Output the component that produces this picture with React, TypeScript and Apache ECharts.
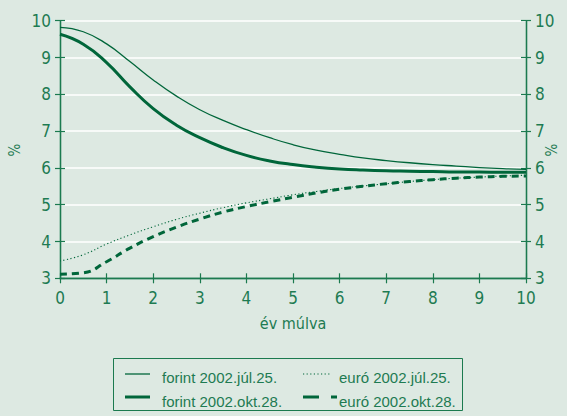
import React, { useEffect, useRef } from "react";
import * as echarts from "echarts";

const years = [0, 0.5, 1, 1.5, 2, 2.5, 3, 3.5, 4, 4.5, 5, 5.5, 6, 6.5, 7, 7.5, 8, 8.5, 9, 9.5, 10];
const forintJul = [9.82, 9.7, 9.37, 8.89, 8.39, 7.95, 7.58, 7.29, 7.04, 6.82, 6.63, 6.48, 6.37, 6.27, 6.2, 6.14, 6.09, 6.05, 6.01, 5.98, 5.96];
const forintOkt = [9.63, 9.36, 8.86, 8.2, 7.61, 7.16, 6.82, 6.55, 6.34, 6.19, 6.09, 6.02, 5.97, 5.94, 5.92, 5.91, 5.9, 5.89, 5.89, 5.88, 5.88];
const euroJul = [3.47, 3.64, 3.93, 4.18, 4.4, 4.6, 4.77, 4.92, 5.05, 5.16, 5.27, 5.36, 5.44, 5.51, 5.57, 5.63, 5.68, 5.72, 5.75, 5.78, 5.8];
const euroOkt = [3.11, 3.15, 3.45, 3.82, 4.13, 4.39, 4.61, 4.8, 4.95, 5.08, 5.2, 5.32, 5.42, 5.5, 5.57, 5.63, 5.68, 5.72, 5.75, 5.77, 5.78];
const seriesNames = ["forint 2002.júl.25.", "euró 2002.júl.25.", "forint 2002.okt.28.", "euró 2002.okt.28."];
const xAxisTitle = "év múlva";
const yAxisTitle = "%";

const BG = "#dde9e2";
const LINE = "#00663a";
const AXIS = "#1b7a4f";
const TEXT = "#1e7b52";
const NARROW = "'Liberation Sans Narrow', 'DejaVu Sans Condensed', 'Liberation Sans', sans-serif";
const LEG_FONT = "'Liberation Sans Narrow', 'Liberation Sans', sans-serif";

function pairs(v: number[]) {
  return years.map((x, i) => [x, v[i]]);
}

export default function App() {
  const ref = useRef<HTMLDivElement>(null);
  useEffect(() => {
    document.body.style.margin = "0";
    document.body.style.background = BG;
    const chart = echarts.init(ref.current!, null, { renderer: "svg" });
    const yBase = {
      type: "value" as const,
      min: 3,
      max: 10,
      interval: 1,
      axisLine: { show: true, lineStyle: { color: AXIS, width: 1.3 } },
      axisLabel: { show: false },
      splitLine: { show: false },
    };
    const yLabel = { show: true, color: TEXT, fontSize: 17, fontFamily: NARROW, margin: 9 };
    const xBase = {
      type: "value" as const,
      min: 0,
      max: 10,
      interval: 1,
      position: "bottom" as const,
      axisLine: { show: true, onZero: false, lineStyle: { color: AXIS, width: 1.3 } },
      axisLabel: { show: false },
      splitLine: { show: false },
    };
    const lineCommon = { type: "line" as const, smooth: true, showSymbol: false, z: 3 };
    const legX1 = 125, legX2 = 303, legR1 = 374, legR2 = 397;
    chart.setOption({
      animation: false,
      backgroundColor: BG,
      grid: { left: 60, right: 41, top: 20.7, bottom: 137.7 },
      xAxis: [
        { ...xBase, axisTick: { show: true, inside: true, length: 5, lineStyle: { color: AXIS, width: 1.2 } },
          axisLabel: { show: true, color: TEXT, fontSize: 17, fontFamily: NARROW, margin: 11 } },
        { ...xBase, axisTick: { show: true, inside: false, length: 5, lineStyle: { color: AXIS, width: 1.2 } } },
      ],
      yAxis: [
        { ...yBase, position: "left", axisTick: { show: true, inside: false, length: 5, lineStyle: { color: AXIS, width: 1.2 } },
          axisLabel: yLabel,
          splitLine: { show: true, lineStyle: { color: "#ffffff", width: 1.5 } } },
        { ...yBase, position: "left", axisTick: { show: true, inside: true, length: 5, lineStyle: { color: AXIS, width: 1.2 } } },
        { ...yBase, position: "right", axisTick: { show: true, inside: false, length: 5, lineStyle: { color: AXIS, width: 1.2 } },
          axisLabel: yLabel },
        { ...yBase, position: "right", axisTick: { show: true, inside: true, length: 5, lineStyle: { color: AXIS, width: 1.2 } } },
      ],
      series: [
        { ...lineCommon, name: seriesNames[0], data: pairs(forintJul), lineStyle: { color: LINE, width: 1.3 } },
        { ...lineCommon, name: seriesNames[1], data: pairs(euroJul), lineStyle: { color: LINE, width: 1.1, type: [1.2, 2.4] } },
        { ...lineCommon, name: seriesNames[2], data: pairs(forintOkt), lineStyle: { color: LINE, width: 3 } },
        { ...lineCommon, name: seriesNames[3], data: pairs(euroOkt), lineStyle: { color: LINE, width: 3, type: [7, 5], cap: "butt" } },
      ],
      graphic: [
        { type: "text", x: 293, y: 323, style: { text: xAxisTitle, fill: TEXT, font: `16px ${NARROW}`, align: "center", verticalAlign: "middle" } },
        { type: "text", x: 15, y: 150, rotation: Math.PI / 2, style: { text: yAxisTitle, fill: TEXT, font: `15px ${NARROW}`, align: "center", verticalAlign: "middle" } },
        { type: "text", x: 552, y: 150, rotation: Math.PI / 2, style: { text: yAxisTitle, fill: TEXT, font: `15px ${NARROW}`, align: "center", verticalAlign: "middle" } },
        { type: "rect", shape: { x: 113.5, y: 358.5, width: 349, height: 52 }, style: { fill: "none", stroke: AXIS, lineWidth: 1 } },
        { type: "line", shape: { x1: legX1, y1: legR1, x2: legX1 + 25, y2: legR1 }, style: { stroke: LINE, lineWidth: 1.3 } },
        { type: "line", shape: { x1: legX2, y1: legR1, x2: legX2 + 27, y2: legR1 }, style: { stroke: LINE, lineWidth: 1.1, lineDash: [1.2, 2.4] } },
        { type: "line", shape: { x1: legX1, y1: legR2, x2: legX1 + 25, y2: legR2 }, style: { stroke: LINE, lineWidth: 3 } },
        { type: "line", shape: { x1: legX2, y1: legR2, x2: legX2 + 34, y2: legR2 }, style: { stroke: LINE, lineWidth: 3, lineDash: [16, 12] } },
        { type: "text", x: 162, y: legR1 + 3, style: { text: seriesNames[0], fill: TEXT, font: `15px ${LEG_FONT}`, verticalAlign: "middle" } },
        { type: "text", x: 339, y: legR1 + 3, style: { text: seriesNames[1], fill: TEXT, font: `15px ${LEG_FONT}`, verticalAlign: "middle" } },
        { type: "text", x: 162, y: legR2 + 4, style: { text: seriesNames[2], fill: TEXT, font: `15px ${LEG_FONT}`, verticalAlign: "middle" } },
        { type: "text", x: 339, y: legR2 + 4, style: { text: seriesNames[3], fill: TEXT, font: `15px ${LEG_FONT}`, verticalAlign: "middle" } },
      ],
    });
    return () => chart.dispose();
  }, []);
  return <div ref={ref} style={{ position: "fixed", left: 0, top: 0, width: 567, height: 416 }} />;
}
